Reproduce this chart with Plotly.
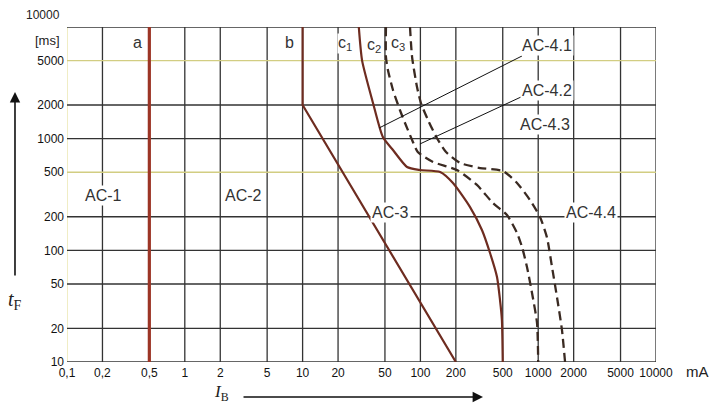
import math
import plotly.graph_objects as go

# ---------------- data ----------------
x_ticks = [0.1, 0.2, 0.5, 1, 2, 5, 10, 20, 50, 100, 200, 500, 1000, 2000, 5000, 10000]
x_ticktext = ["0,1", "0,2", "0,5", "1", "2", "5", "10", "20", "50", "100", "200",
              "500", "1000", "2000", "5000", "10000"]
y_ticks = [10, 20, 50, 100, 200, 500, 1000, 2000, 5000, 10000]
y_ticktext = ["10", "20", "50", "100", "200", "500", "1000", "2000", "5000", ""]
y_highlight = [500, 5000]          # yellowish grid lines

a_x = [0.5, 0.5]
a_y = [10, 10000]
b_x = [10, 10, 200]
b_y = [10000, 2000, 10]
c1_x = [30, 32, 39.6, 48, 58.5, 77, 99, 147, 189, 264, 333, 390, 447, 474, 492, 500]
c1_y = [10000, 5000, 2087, 1035, 791, 558, 524, 503, 401, 244, 152, 94.6, 57.7, 35.9, 23.8, 10]
c2_x = [51, 51, 53, 58.5, 67, 74, 85, 95, 128, 204, 302, 413, 543, 661, 729, 803, 886, 977, 1000]
c2_y = [10000, 5386, 4120, 2728, 1806, 1381, 973, 760, 618, 524, 385, 265, 207, 143, 107, 71, 41.5, 22.4, 10]
c3_x = [81.6, 85, 93.6, 101, 116, 138, 165, 217, 321, 502, 661, 852, 1036, 1188, 1310, 1444, 1592, 1690]
c3_y = [10000, 5386, 2901, 2087, 1470, 1014, 760, 606, 546, 513, 401, 282, 199, 130, 71, 38, 19.3, 10]

lead41_x = [728, 44.6]
lead41_y = [5500, 1246]
lead42_x = [714, 99]
lead42_y = [2360, 896]

zone_text = ["AC-1", "AC-2", "AC-3", "AC-4.1", "AC-4.2", "AC-4.3", "AC-4.4"]
zone_x = [0.206, 3.18, 55.5, 1188, 1188, 1142, 2805]
zone_y = [313, 313, 216, 6897, 2728, 1330, 216]

curve_text = ["a", "b", "c<sub>1</sub>", "c<sub>2</sub>", "c<sub>3</sub>"]
curve_x = [0.393, 7.67, 22.9, 40.4, 64.6]
curve_y = [7340, 7340, 7100, 6900, 7100]

# ---------------- figure ----------------
SOLID = "#6e2c20"
RED = "#9c3526"
DASH = "#3a2a22"
GRID = "#333333"
YEL = "#d2cd82"
FONT = "Liberation Sans, Arial, sans-serif"

fig = go.Figure()

# grid lines as shapes (shapes take raw data values on log axes)
shapes = []
for v in x_ticks:
    col = "#e8e4a6" if v == x_ticks[0] else GRID
    shapes.append(dict(type="line", xref="x", yref="paper", x0=v, x1=v,
                       y0=0, y1=1, line=dict(color=col, width=1.3), layer="below"))
for v in y_ticks:
    col = YEL if v in y_highlight else GRID
    shapes.append(dict(type="line", xref="paper", yref="y", x0=0, x1=1,
                       y0=v, y1=v, line=dict(color=col, width=1.4), layer="below"))

fig.add_trace(go.Scatter(x=a_x, y=a_y, mode="lines", line=dict(color=RED, width=3.2),
                         hoverinfo="skip"))
fig.add_trace(go.Scatter(x=b_x, y=b_y, mode="lines", line=dict(color=SOLID, width=2.2),
                         hoverinfo="skip"))
fig.add_trace(go.Scatter(x=c1_x, y=c1_y, mode="lines",
                         line=dict(color=SOLID, width=2.2, shape="spline", smoothing=0.6),
                         hoverinfo="skip"))
fig.add_trace(go.Scatter(x=c2_x, y=c2_y, mode="lines",
                         line=dict(color=DASH, width=2.3, dash="9px,5px", shape="spline",
                                   smoothing=0.6), hoverinfo="skip"))
fig.add_trace(go.Scatter(x=c3_x, y=c3_y, mode="lines",
                         line=dict(color=DASH, width=2.3, dash="9px,5px", shape="spline",
                                   smoothing=0.6), hoverinfo="skip"))
fig.add_trace(go.Scatter(x=lead41_x, y=lead41_y, mode="lines", line=dict(color="#111", width=1),
                         hoverinfo="skip"))
fig.add_trace(go.Scatter(x=lead42_x, y=lead42_y, mode="lines", line=dict(color="#111", width=1),
                         hoverinfo="skip"))

annotations = []
for t, xv, yv in zip(zone_text, zone_x, zone_y):
    annotations.append(dict(x=math.log10(xv), y=math.log10(yv), xref="x", yref="y", text=t,
                            showarrow=False, bgcolor="white", borderpad=1,
                            font=dict(family=FONT, size=16, color="#333")))
for t, xv, yv in zip(curve_text, curve_x, curve_y):
    annotations.append(dict(x=math.log10(xv), y=math.log10(yv), xref="x", yref="y", text=t,
                            showarrow=False, bgcolor="white", borderpad=0,
                            font=dict(family=FONT, size=16, color="#333")))

# axis extras
annotations += [
    dict(xref="paper", yref="paper", x=-0.0085, y=1.035, xanchor="right", yanchor="middle",
         text="10000", showarrow=False, font=dict(family=FONT, size=12, color="#222")),
    dict(xref="paper", yref="paper", x=-0.0085, y=0.961, xanchor="right", yanchor="middle",
         text="[ms]", showarrow=False, font=dict(family=FONT, size=13, color="#222")),
    dict(xref="paper", yref="paper", x=1.07, y=-0.028, xanchor="center", yanchor="middle",
         text="mA", showarrow=False, font=dict(family=FONT, size=15, color="#222")),
    dict(xref="paper", yref="paper", x=-0.0883, y=0.185, xanchor="center", yanchor="middle",
         text="<i>t</i><sub>F</sub>", showarrow=False,
         font=dict(family="Liberation Serif, serif", size=20, color="#222")),
    dict(xref="paper", yref="paper", x=0.262, y=-0.093, xanchor="center", yanchor="middle",
         text="<i>I</i><sub>B</sub>", showarrow=False,
         font=dict(family="Liberation Serif, serif", size=17, color="#222")),
    dict(xref="paper", yref="paper", x=-0.0883, y=0.806, ax=0, ay=185, text="",
         showarrow=True, arrowhead=2, arrowsize=1.3, arrowwidth=1.6, arrowcolor="#111"),
    dict(xref="paper", yref="paper", x=0.7063, y=-0.1045, ax=-241, ay=0, text="",
         showarrow=True, arrowhead=2, arrowsize=1.3, arrowwidth=1.6, arrowcolor="#111"),
]

fig.update_layout(
    width=714, height=403,
    margin=dict(l=67, r=58, t=27, b=41),
    paper_bgcolor="white", plot_bgcolor="white",
    showlegend=False,
    shapes=shapes,
    annotations=annotations,
    xaxis=dict(type="log", range=[-1, 4], showgrid=False, zeroline=False, showline=False,
               ticks="", tickmode="array", tickvals=x_ticks, ticktext=x_ticktext,
               tickfont=dict(family=FONT, size=12, color="#111"), ticklabelstandoff=2),
    yaxis=dict(type="log", range=[1, 4], showgrid=False, zeroline=False, showline=False,
               ticks="", tickmode="array", tickvals=y_ticks, ticktext=y_ticktext,
               tickfont=dict(family=FONT, size=12, color="#111"), ticklabelstandoff=2),
)

fig.write_html("out.html")
